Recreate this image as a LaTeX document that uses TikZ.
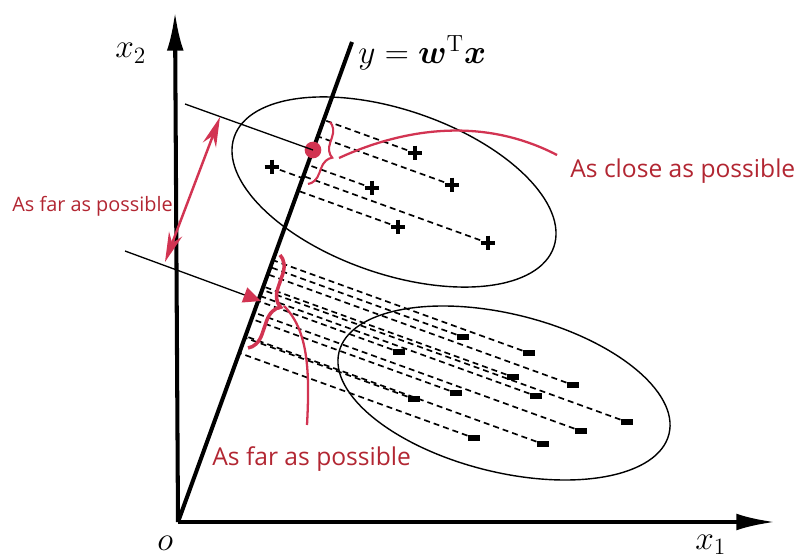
\RequirePackage{fix-cm}
\documentclass[tikz,border=0pt]{standalone}
\usepackage{fontspec}
\usepackage{amsmath}
\usetikzlibrary{arrows.meta,calc,decorations.pathreplacing}

\newfontfamily\notefont{Open Sans}
\definecolor{notered}{RGB}{178,38,50}
\definecolor{markred}{RGB}{210,52,82}

\tikzset{
  axis/.style={line width=2.3pt, -{Latex[length=22pt,width=9.5pt]}},
  projline/.style={line width=2.3pt},
  meanline/.style={line width=0.75pt},
  projdash/.style={line width=0.95pt, dash pattern=on 3.4pt off 2.3pt},
  plusmark/.style={inner sep=0pt, minimum size=8.5pt,
    path picture={\draw[line width=1.9pt] (path picture bounding box.north) -- (path picture bounding box.south)
      (path picture bounding box.west) -- (path picture bounding box.east);}},
  minusmark/.style={rectangle, fill=black, inner sep=0pt, minimum width=7pt, minimum height=3pt},
  mathlabel/.style={anchor=base west, inner sep=0pt, font=\fontsize{19}{22}\selectfont},
  note/.style={anchor=base west, inner sep=0pt, text=notered, font=\notefont\fontsize{14}{16}\selectfont},
  redbrace/.style={decorate, draw=markred, decoration={brace, amplitude=#1}},
}

\begin{document}
\begin{tikzpicture}[x=0.02cm, y=-0.02cm]
    \useasboundingbox (0,0) rectangle (798,557);

    % Axes and projection line
    \coordinate (O) at (178,522);
    \coordinate (x1_end) at (775,522);
    \coordinate (x2_end) at (175,12);
    \coordinate (W) at (352,42);
    \draw[axis] (O) -- (x1_end);
    \draw[axis] (O) -- (x2_end);

    % Classes
    \draw[line width=0.8pt, rotate around={-19:(394,192)}] (394,192) ellipse (169 and 82);
    \draw[line width=0.8pt, rotate around={-14:(504,393)}] (504,393) ellipse (170 and 79);

    % Positive samples
    \node[plusmark] (p_1) at (272,167) {};
    \node[plusmark] (p_2) at (415,153) {};
    \node[plusmark] (p_3) at (372,188) {};
    \node[plusmark] (p_4) at (452,185) {};
    \node[plusmark] (p_5) at (398,227) {};
    \node[plusmark] (p_6) at (488,243) {};

    % Negative samples
    \node[minusmark] (m_1) at (463,337) {};
    \node[minusmark] (m_2) at (399,352) {};
    \node[minusmark] (m_3) at (529,353) {};
    \node[minusmark] (m_4) at (513,377) {};
    \node[minusmark] (m_5) at (573,385) {};
    \node[minusmark] (m_6) at (456,393) {};
    \node[minusmark] (m_7) at (536,396) {};
    \node[minusmark] (m_8) at (414,399) {};
    \node[minusmark] (m_9) at (627,422) {};
    \node[minusmark] (m_10) at (581,431) {};
    \node[minusmark] (m_11) at (474,438) {};
    \node[minusmark] (m_12) at (543,444) {};

    % Projections
    \draw[projdash] (p_1) -- ($(O)!(p_1)!(W)$);
    \draw[projdash] (p_2) -- ($(O)!(p_2)!(W)$);
    \draw[projdash] (p_3) -- ($(O)!(p_3)!(W)$);
    \draw[projdash] (p_4) -- ($(O)!(p_4)!(W)$);
    \draw[projdash] (p_5) -- ($(O)!(p_5)!(W)$);
    \draw[projdash] (p_6) -- ($(O)!(p_6)!(W)$);
    \draw[projdash] (m_1) -- ($(O)!(m_1)!(W)$);
    \draw[projdash] (m_2) -- ($(O)!(m_2)!(W)$);
    \draw[projdash] (m_3) -- ($(O)!(m_3)!(W)$);
    \draw[projdash] (m_4) -- ($(O)!(m_4)!(W)$);
    \draw[projdash] (m_5) -- ($(O)!(m_5)!(W)$);
    \draw[projdash] (m_6) -- ($(O)!(m_6)!(W)$);
    \draw[projdash] (m_7) -- ($(O)!(m_7)!(W)$);
    \draw[projdash] (m_8) -- ($(O)!(m_8)!(W)$);
    \draw[projdash] (m_9) -- ($(O)!(m_9)!(W)$);
    \draw[projdash] (m_10) -- ($(O)!(m_10)!(W)$);
    \draw[projdash] (m_11) -- ($(O)!(m_11)!(W)$);
    \draw[projdash] (m_12) -- ($(O)!(m_12)!(W)$);

    \draw[projline] (O) -- (W);

    % Projected means
    \coordinate (mp_start) at (185,104);
    \coordinate (mm_start) at (125,251);
    \coordinate (mm) at (261,301);
    \node[circle, fill=markred, minimum size=9.5pt, inner sep=0pt] (mp) at (313,150) {};
    \draw[meanline] (mp_start) -- (mp.center);
    \draw[meanline, -{Triangle[length=10pt,width=9pt,color=markred]}] (mm_start) -- (mm);

    % Between-class distance
    \coordinate (far_lo) at (165,262);
    \coordinate (far_hi) at (220,117);
    \draw[markred, line width=1.4pt, {Stealth[length=17pt,width=8pt]}-{Stealth[length=17pt,width=8pt]}] (far_lo) -- (far_hi);
    \node[note, font=\notefont\fontsize{11.3}{13}\selectfont] (far_side_txt) at (12,212) {As far as possible};

    % Within-class spread
    \draw[redbrace=8pt, line width=1.2pt] (330,122) -- (308,184);
    \draw[redbrace=10pt, line width=2pt] (280,255) -- (248,348);
    \node[note] (close_txt) at (570,178) {As close as possible};
    \node[note] (far_txt) at (212,465) {As far as possible};
    \draw[markred, line width=1.3pt] (339,158) .. controls (400,130) and (480,115) .. (557,155);
    \draw[markred, line width=1.3pt] (284,306) .. controls (308,330) and (310,370) .. (307,425);

    % Labels
    \node[mathlabel] (x2_lbl) at (115,58) {$x_2$};
    \node[mathlabel] (x1_lbl) at (695,549) {$x_1$};
    \node[mathlabel] (o_lbl) at (157,550) {$o$};
    \node[mathlabel] (w_lbl) at (358,64) {$y=\boldsymbol{w}^{\mathrm{T}}\boldsymbol{x}$};

\end{tikzpicture}
\end{document}
